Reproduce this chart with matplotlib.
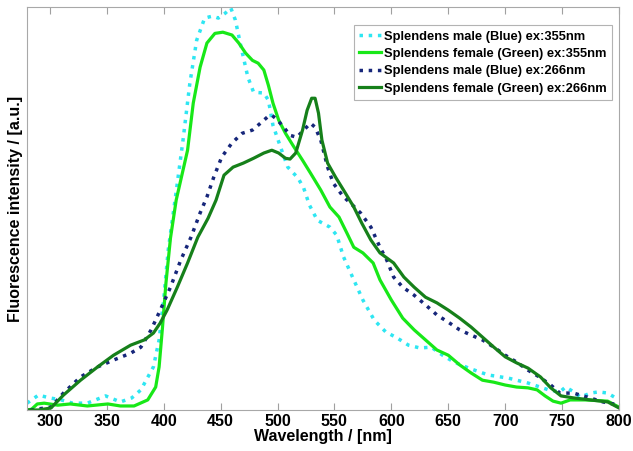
import matplotlib
matplotlib.use("Agg")
import matplotlib.pyplot as plt

plt.rcParams['font.family'] = ['Liberation Sans', 'DejaVu Sans']

labels = ["Splendens male (Blue) ex:355nm",
          "Splendens female (Green) ex:355nm",
          "Splendens male (Blue) ex:266nm",
          "Splendens female (Green) ex:266nm"]

wl_cyan = [280, 290, 300, 310, 320, 333, 349, 362, 372, 380, 391, 396, 400, 404, 410, 417, 423, 429,
           436, 443, 448, 454, 459, 463, 468, 474, 479, 488, 492, 496, 503, 509, 518, 523, 528, 535,
           546, 552, 558, 567, 575, 585, 595, 605, 615, 625, 635, 645, 655, 668, 685, 703, 720, 738,
           748, 753, 759, 766, 775, 782, 790, 797, 800]
int_cyan = [0.017, 0.037, 0.030, 0.025, 0.017, 0.017, 0.035, 0.020, 0.030, 0.050, 0.107, 0.174, 0.273,
            0.397, 0.521, 0.670, 0.811, 0.918, 0.973, 0.978, 0.973, 0.985, 0.998, 0.968, 0.901, 0.826,
            0.789, 0.787, 0.769, 0.707, 0.650, 0.603, 0.576, 0.551, 0.509, 0.471, 0.454, 0.434, 0.380,
            0.323, 0.273, 0.223, 0.194, 0.179, 0.161, 0.154, 0.156, 0.136, 0.119, 0.104, 0.087, 0.079,
            0.067, 0.050, 0.045, 0.057, 0.047, 0.032, 0.042, 0.045, 0.042, 0.030, 0.032]

wl_lgreen = [280, 284, 289, 295, 307, 318, 333, 351, 362, 374, 386, 393, 396, 399, 402, 406, 411, 421,
             426, 432, 438, 445, 452, 460, 466, 472, 478, 483, 488, 492, 496, 501, 507, 514, 522, 529,
             538, 546, 554, 561, 567, 575, 584, 590, 600, 610, 620, 630, 640, 650, 660, 670, 680, 690,
             700, 710, 720, 728, 735, 742, 749, 757, 770, 790, 800]
int_lgreen = [0.000, 0.002, 0.015, 0.017, 0.012, 0.015, 0.010, 0.015, 0.010, 0.010, 0.025, 0.057, 0.107,
              0.206, 0.315, 0.427, 0.521, 0.645, 0.762, 0.851, 0.911, 0.935, 0.938, 0.931, 0.911, 0.886,
              0.868, 0.861, 0.844, 0.806, 0.762, 0.720, 0.687, 0.655, 0.620, 0.588, 0.546, 0.504, 0.479,
              0.439, 0.404, 0.390, 0.365, 0.323, 0.273, 0.228, 0.199, 0.174, 0.149, 0.136, 0.112, 0.092,
              0.074, 0.069, 0.062, 0.057, 0.055, 0.050, 0.035, 0.022, 0.017, 0.025, 0.025, 0.022, 0.007]

wl_navy = [283, 301, 312, 327, 342, 356, 371, 380, 389, 397, 406, 415, 424, 432, 438, 444, 451, 460,
           469, 478, 485, 491, 495, 500, 506, 511, 517, 523, 529, 533, 538, 544, 549, 558, 564, 573,
           582, 590, 596, 602, 610, 620, 630, 640, 650, 660, 670, 680, 690, 700, 710, 720, 730, 740,
           748, 760, 772, 786, 800]
int_navy = [0.000, 0.007, 0.042, 0.082, 0.107, 0.124, 0.141, 0.156, 0.199, 0.248, 0.305, 0.372, 0.429,
            0.489, 0.529, 0.578, 0.628, 0.663, 0.687, 0.695, 0.712, 0.727, 0.732, 0.720, 0.700, 0.682,
            0.677, 0.695, 0.712, 0.702, 0.670, 0.603, 0.563, 0.529, 0.514, 0.489, 0.454, 0.404, 0.372,
            0.330, 0.305, 0.285, 0.261, 0.236, 0.218, 0.199, 0.186, 0.174, 0.156, 0.136, 0.119, 0.099,
            0.082, 0.062, 0.042, 0.042, 0.032, 0.020, 0.012]

wl_dgreen = [280, 290, 301, 312, 327, 342, 356, 371, 383, 391, 397, 403, 412, 421, 430, 439, 446, 453,
             461, 470, 479, 488, 495, 501, 507, 511, 516, 522, 526, 530, 533, 536, 539, 544, 551, 558,
             567, 574, 582, 590, 602, 611, 620, 630, 640, 650, 660, 670, 680, 690, 700, 710, 720, 731,
             740, 749, 760, 775, 790, 800]
int_dgreen = [0.000, 0.000, 0.005, 0.037, 0.074, 0.107, 0.136, 0.161, 0.174, 0.191, 0.216, 0.248, 0.305,
              0.365, 0.429, 0.476, 0.521, 0.583, 0.603, 0.613, 0.625, 0.638, 0.645, 0.638, 0.625, 0.623,
              0.638, 0.695, 0.744, 0.774, 0.774, 0.737, 0.670, 0.613, 0.578, 0.546, 0.504, 0.464, 0.422,
              0.390, 0.365, 0.330, 0.305, 0.280, 0.266, 0.248, 0.228, 0.206, 0.181, 0.156, 0.132, 0.117,
              0.104, 0.082, 0.055, 0.035, 0.030, 0.025, 0.020, 0.005]

xticks = [300, 350, 400, 450, 500, 550, 600, 650, 700, 750, 800]

fig = plt.figure(figsize=(6.33, 4.51), dpi=100)
ax = fig.add_axes([0.0427, 0.0909, 0.9353, 0.8931])

ax.plot(wl_cyan, int_cyan, linestyle=':', color='#2ee6f2', lw=2.5, label=labels[0])
ax.plot(wl_lgreen, int_lgreen, linestyle='-', color='#18e818', lw=2.3, label=labels[1])
ax.plot(wl_navy, int_navy, linestyle=':', color='#16267a', lw=2.5, label=labels[2])
ax.plot(wl_dgreen, int_dgreen, linestyle='-', color='#16801a', lw=2.3, label=labels[3])

ax.set_xlim(280, 800)
ax.set_ylim(0, 1.0)
ax.set_xticks(xticks)
ax.set_xticklabels([str(t) for t in xticks], fontsize=11.5, fontweight='bold')
ax.set_yticks([])
ax.tick_params(axis='x', direction='in', top=True, length=5, color='#a0a0a0', pad=3)
for s in ax.spines.values():
    s.set_color('#a8a8a8')
    s.set_linewidth(0.8)

ax.set_xlabel('Wavelength / [nm]', fontsize=11.5, fontweight='bold', labelpad=0)
ax.set_ylabel('Fluorescence intensity / [a.u.]', fontsize=11.5, fontweight='bold', labelpad=3)

leg = ax.legend(loc='upper right', bbox_to_anchor=(0.988, 0.955),
                prop={'weight': 'bold', 'size': 9.3}, frameon=True, fancybox=False,
                edgecolor='#a0a0a0', handlelength=1.7, handletextpad=0.25,
                labelspacing=0.42, borderpad=0.4, borderaxespad=0)
leg.get_frame().set_linewidth(0.8)

fig.savefig('out.png', dpi=100)
